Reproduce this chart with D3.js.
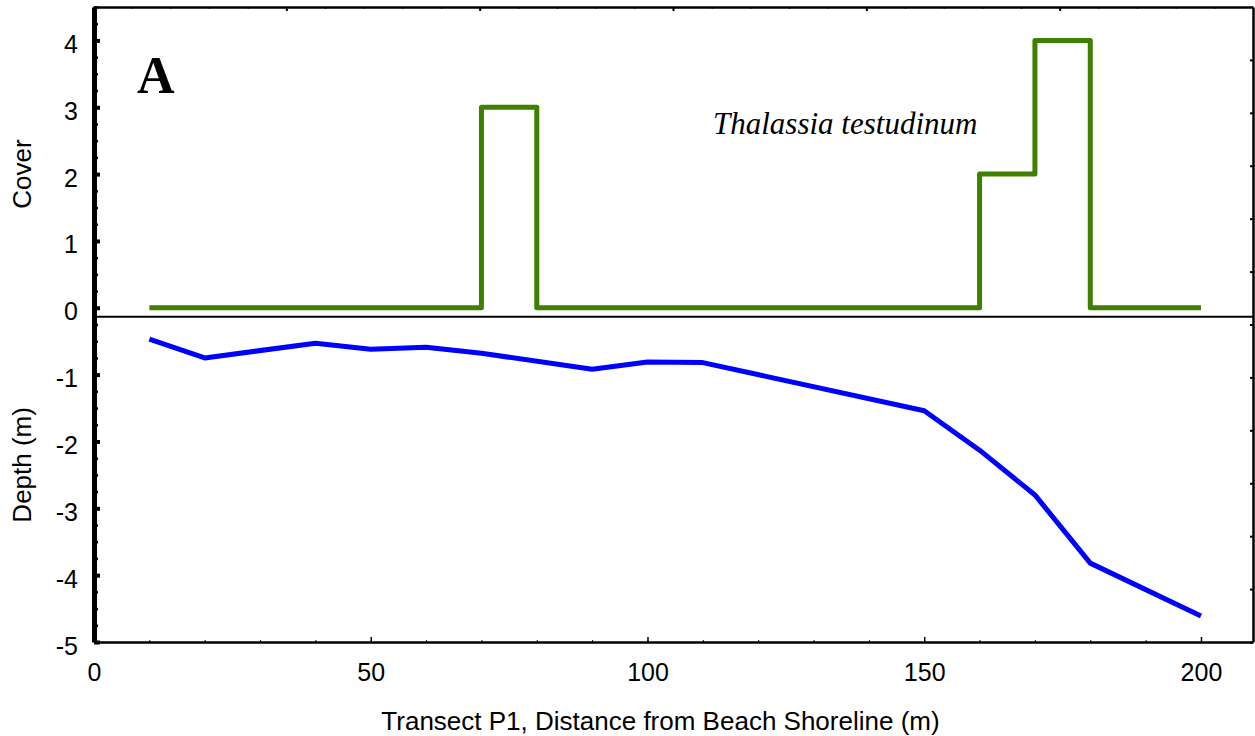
<!DOCTYPE html>
<html>
<head>
<meta charset="utf-8">
<script src="https://cdn.jsdelivr.net/npm/d3@7"></script>
<style>
    body { margin: 0; background: #fff; }
    svg { display: block; }
    .tick text { font-family: "Liberation Sans", Arial, sans-serif; font-size: 25px; fill: #000; }
    .ttl { font-family: "Liberation Sans", Arial, sans-serif; font-size: 26px; fill: #000; }
</style>
</head>
<body>
<div id="chart"></div>
<script>
// Seagrass cover (step) and bottom depth along transect P1
var coverX   = [10, 20, 30, 40, 50, 60, 70, 80, 90, 100, 110, 120, 130, 140, 150, 160, 170, 180, 190, 200];
var coverVal = [0, 0, 0, 0, 0, 0, 3, 0, 0, 0, 0, 0, 0, 0, 0, 2, 4, 0, 0, 0];

var depthX   = [10, 20, 40, 50, 60, 70, 90, 100, 110, 150, 160, 170, 180, 200];
var depthVal = [-0.47, -0.75, -0.53, -0.62, -0.59, -0.68, -0.92, -0.81, -0.82, -1.54, -2.13, -2.8, -3.82, -4.61];

var xTicks = [0, 50, 100, 150, 200];
var yTicks = [-5, -4, -3, -2, -1, 0, 1, 2, 3, 4];
var separatorVal = -0.133;   // line splitting the cover panel from the depth panel

drawChart();

function drawChart() {
    var width = 1255, height = 736;
    var pLeft = 94, pRight = 1253, pTop = 7, pBottom = 642;

    var svg = d3.select('#chart').append('svg')
        .attr('width', width)
        .attr('height', height);

    var x = d3.scaleLinear().domain([0, 209.4]).range([pLeft, pRight]);
    var y = d3.scaleLinear().domain([-5, 4.5]).range([pBottom, pTop]);
    // unlabeled secondary axes on the top / right of the frame
    var xTop = d3.scaleLinear().domain([0, 30]).range([pLeft - 1, pRight]);
    var yRight = d3.scaleLinear().domain([0, 12]).range([pTop, pBottom]);

    // plain hyphen-minus labels, like the original
    var plainNum = function(d) { return String(d); };

    // top frame with little ticks
    svg.append('g')
        .attr('transform', 'translate(0,' + pTop + ')')
        .call(d3.axisBottom(xTop).tickValues(d3.range(1, 30)).tickSize(2).tickSizeOuter(0).tickFormat(''))
        .call(function(g) { g.select('.domain').attr('stroke-width', 2.5); });
    svg.append('g')
        .attr('transform', 'translate(0,' + pTop + ')')
        .call(d3.axisBottom(xTop).tickValues([5, 10, 15, 20, 25]).tickSize(4).tickSizeOuter(0).tickFormat(''))
        .call(function(g) { g.select('.domain').remove(); g.selectAll('line').attr('stroke-width', 2); });

    // right frame
    svg.append('g')
        .attr('transform', 'translate(' + pRight + ',0)')
        .call(d3.axisLeft(yRight).tickValues(d3.range(1, 13)).tickSize(3).tickSizeOuter(0).tickFormat(''))
        .call(function(g) {
            g.select('.domain').attr('stroke-width', 2.5);
            g.selectAll('line').attr('stroke-width', 2);
        });

    // bottom axis
    svg.append('g')
        .attr('transform', 'translate(0,' + pBottom + ')')
        .call(d3.axisBottom(x).tickValues(d3.range(10, 210, 10)).tickSize(-2).tickSizeOuter(0).tickFormat(''))
        .call(function(g) { g.select('.domain').attr('stroke-width', 2.5); });
    svg.append('g')
        .attr('transform', 'translate(0,' + pBottom + ')')
        .call(d3.axisBottom(x).tickValues(xTicks).tickSizeInner(-5).tickSizeOuter(0).tickPadding(21).tickFormat(plainNum))
        .call(function(g) { g.select('.domain').remove(); g.selectAll('line').attr('stroke-width', 1.5); });

    // left axis: minor ticks every 0.25, thick spine
    svg.append('g')
        .attr('transform', 'translate(' + pLeft + ',0)')
        .call(d3.axisLeft(y).tickValues(d3.range(-5, 4.51, 0.25)).tickSizeInner(-4).tickSizeOuter(0).tickFormat(''))
        .call(function(g) {
            g.select('.domain').attr('stroke-width', 5);
            g.selectAll('line').attr('stroke-width', 2.5);
        });
    svg.append('g')
        .attr('transform', 'translate(' + pLeft + ',0)')
        .call(d3.axisLeft(y).tickValues(yTicks).tickSizeInner(-6).tickSizeOuter(0).tickPadding(16).tickFormat(plainNum))
        .call(function(g) {
            g.select('.domain').remove();
            g.selectAll('line').attr('stroke-width', 4);
            g.selectAll('text').attr('dy', '0.48em');
        });

    // separator between the two panels
    svg.append('line')
        .attr('x1', pLeft).attr('x2', pRight)
        .attr('y1', y(separatorVal)).attr('y2', y(separatorVal))
        .attr('stroke', '#000')
        .attr('stroke-width', 2);

    // cover (step line)
    var coverLine = d3.line()
        .x(function(d, i) { return x(coverX[i]); })
        .y(function(d) { return y(d); })
        .curve(d3.curveStepAfter);
    svg.append('path')
        .datum(coverVal)
        .attr('d', coverLine)
        .attr('fill', 'none')
        .attr('stroke', '#3f8000')
        .attr('stroke-width', 5)
        .attr('stroke-linejoin', 'round');

    // depth profile
    var depthLine = d3.line()
        .x(function(d, i) { return x(depthX[i]); })
        .y(function(d) { return y(d); });
    svg.append('path')
        .datum(depthVal)
        .attr('d', depthLine)
        .attr('fill', 'none')
        .attr('stroke', '#0000ff')
        .attr('stroke-width', 5)
        .attr('stroke-linejoin', 'round');

    // titles
    svg.append('text')
        .attr('class', 'ttl')
        .attr('transform', 'translate(31,' + y(2) + ') rotate(-90)')
        .attr('text-anchor', 'middle')
        .text('Cover');
    svg.append('text')
        .attr('class', 'ttl')
        .attr('transform', 'translate(31,' + y(-2.35) + ') rotate(-90)')
        .attr('text-anchor', 'middle')
        .text('Depth (m)');
    svg.append('text')
        .attr('class', 'ttl')
        .attr('x', (pLeft + pRight) / 2 - 13)
        .attr('y', 730)
        .attr('text-anchor', 'middle')
        .text('Transect P1, Distance from Beach Shoreline (m)');

    svg.append('text')
        .attr('x', 137)
        .attr('y', 93)
        .style('font-family', '"Liberation Serif", "Times New Roman", serif')
        .style('font-weight', 'bold')
        .style('font-size', '52px')
        .text('A');

    svg.append('text')
        .attr('x', 713)
        .attr('y', 134)
        .style('font-family', '"Liberation Serif", "Times New Roman", serif')
        .style('font-style', 'italic')
        .style('font-size', '31px')
        .text('Thalassia testudinum');
} // drawChart()
</script>
</body>
</html>
